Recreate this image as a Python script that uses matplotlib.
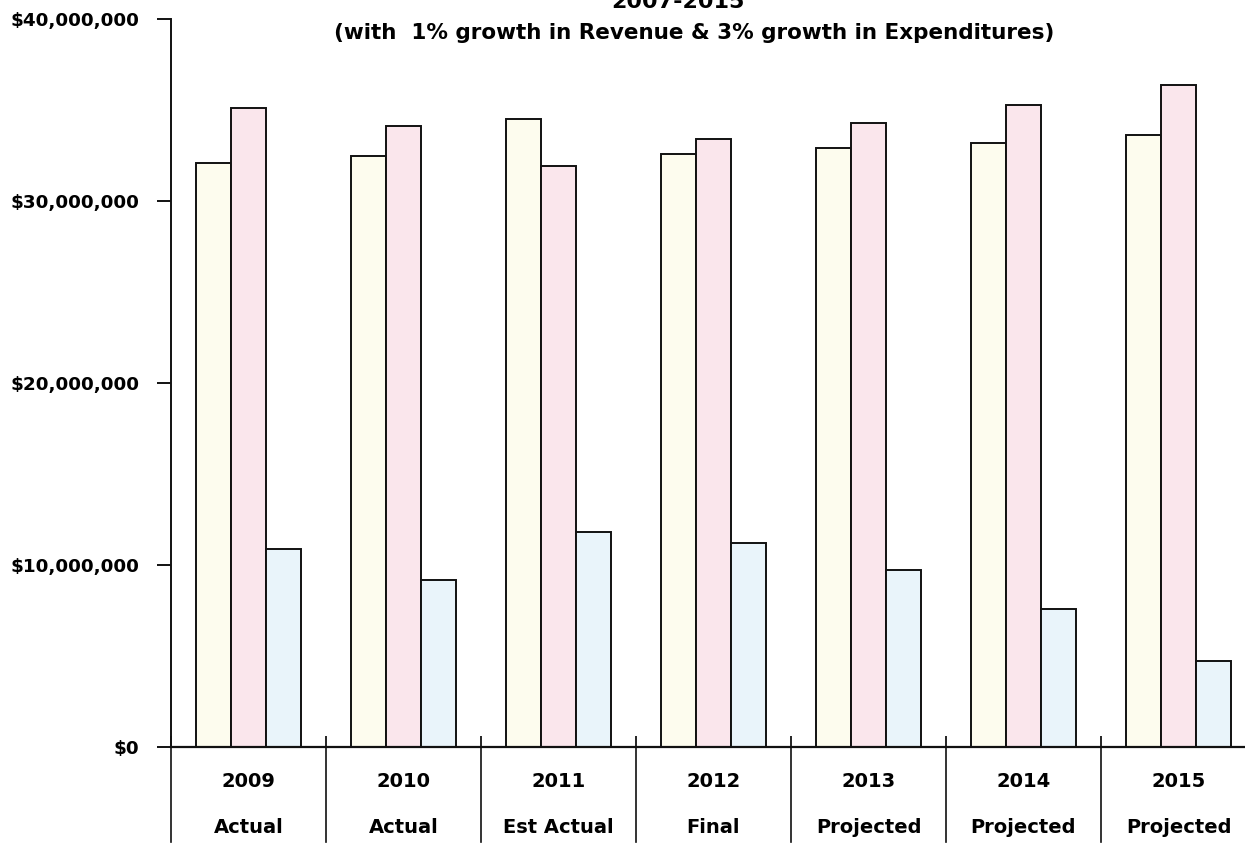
import matplotlib
matplotlib.use("Agg")
import matplotlib.pyplot as plt
from matplotlib.ticker import FuncFormatter, FixedLocator
import numpy as np

years = ["2009", "2010", "2011", "2012", "2013", "2014", "2015"]
status = ["Actual", "Actual", "Est Actual", "Final", "Projected", "Projected", "Projected"]
revenue = [32.1e6, 32.5e6, 34.5e6, 32.6e6, 32.9e6, 33.2e6, 33.6e6]
expenditures = [35.1e6, 34.1e6, 31.9e6, 33.4e6, 34.3e6, 35.3e6, 36.4e6]
fund_balance = [10.9e6, 9.2e6, 11.8e6, 11.2e6, 9.7e6, 7.6e6, 4.7e6]
yticks = [0, 10e6, 20e6, 30e6, 40e6]

W, H = 1245, 844
fig = plt.figure(figsize=(W / 100, H / 100), dpi=100)
left, right, bottom, top = 171, 1256, 747, 19
ax = fig.add_axes([left / W, (H - bottom) / H, (right - left) / W, (bottom - top) / H])

x = np.arange(len(years))
w = 0.226
ec = "#111111"
ax.bar(x - w, revenue, w, color="#FDFCEE", edgecolor=ec, linewidth=1.4)
ax.bar(x, expenditures, w, color="#FAE6EC", edgecolor=ec, linewidth=1.4)
ax.bar(x + w, fund_balance, w, color="#E9F4FA", edgecolor=ec, linewidth=1.4)

ax.set_xlim(-0.5, len(years) - 0.5)
ax.set_ylim(0, 40e6)
for s in ["top", "right"]:
    ax.spines[s].set_visible(False)
ax.spines["left"].set_linewidth(1.4)
ax.spines["bottom"].set_linewidth(1.6)
ax.spines["left"].set_color(ec)
ax.spines["bottom"].set_color(ec)

ax.yaxis.set_major_locator(FixedLocator(yticks))
ax.yaxis.set_major_formatter(FuncFormatter(lambda v, p: "${:,.0f}".format(v)))
ax.tick_params(axis="y", direction="out", length=10, width=1.3, pad=13,
               labelsize=13.2)
for lab in ax.get_yticklabels():
    lab.set_fontweight("bold")

# category boundaries
bounds = np.arange(len(years) + 1) - 0.5
ax.set_xticks(bounds)
ax.set_xticklabels([])
ax.tick_params(axis="x", direction="in", length=8, width=1.2)
for b in bounds:
    ax.plot([b, b], [0, -0.13], transform=ax.get_xaxis_transform(),
            color=ec, lw=1.2, clip_on=False)

for i in range(len(years)):
    ax.text(i, -0.048, years[i], transform=ax.get_xaxis_transform(),
            ha="center", va="center", fontsize=14, fontweight="bold")
    ax.text(i, -0.111, status[i], transform=ax.get_xaxis_transform(),
            ha="center", va="center", fontsize=14, fontweight="bold")

fig.text(678 / W, 1 - 8 / H, "2007-2015", ha="center", va="baseline",
         fontsize=16, fontweight="bold")
fig.text(694 / W, 1 - 33 / H,
         "(with  1% growth in Revenue & 3% growth in Expenditures)",
         ha="center", va="center", fontsize=15.5, fontweight="bold")

fig.savefig("out.png", dpi=100, facecolor="white")
